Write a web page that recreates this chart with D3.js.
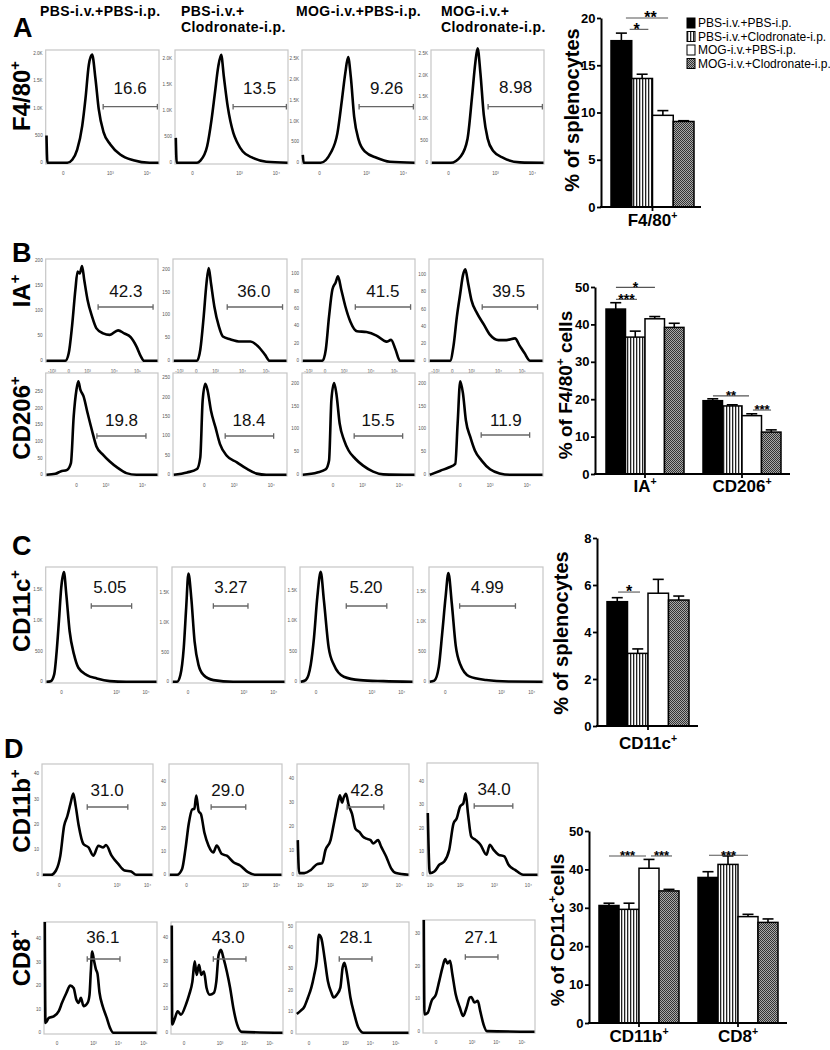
<!DOCTYPE html>
<html><head><meta charset="utf-8">
<script src="https://cdn.jsdelivr.net/npm/d3@7"></script>
<style>body{margin:0;background:#fff}svg{display:block}</style>
</head><body>
<svg id="fig" width="830" height="1050"></svg>
<script>
// ---------------- DATA ----------------
const groups = ["PBS-i.v.+PBS-i.p.","PBS-i.v.+Clodronate-i.p.","MOG-i.v.+PBS-i.p.","MOG-i.v.+Clodronate-i.p."];
const colHeaders = [["PBS-i.v.+PBS-i.p."],["PBS-i.v.+","Clodronate-i.p."],["MOG-i.v.+PBS-i.p."],["MOG-i.v.+","Clodronate-i.p."]];

const pctF480  = ["16.6","13.5","9.26","8.98"];
const pctIA    = ["42.3","36.0","41.5","39.5"];
const pctCD206 = ["19.8","18.4","15.5","11.9"];
const pctCD11c = ["5.05","3.27","5.20","4.99"];
const pctCD11b = ["31.0","29.0","42.8","34.0"];
const pctCD8   = ["36.1","43.0","28.1","27.1"];

// histogram curves: [channel position (% of axis), count]
const histF480 = [
 [[0,500],[0.8,0],[18.6,0],[23,56],[27.4,240],[31.9,675],[34.8,1170],[37.8,1790],[40.7,1975],[43.7,1540],[46.6,985],[51,555],[57,335],[65.8,150],[77.6,45],[92,0],[100,0]],
 [[0,480],[0.8,0],[19,0],[22,40],[28,313],[32,830],[35,1340],[38,1850],[40.6,2080],[43,1660],[46.5,1080],[51.5,575],[55,390],[60,217],[69,95],[81,20],[100,0]],
 [[0,190],[0.8,0],[16,0],[25,240],[31,710],[35,1500],[38,2140],[40.6,2530],[43,2050],[46,1100],[50,550],[56,260],[66,120],[78,25],[100,0]],
 [[0,0],[17,0],[26,150],[32,550],[36,1500],[39,2290],[41,2610],[43.5,2050],[46.5,1100],[50,550],[55,270],[64,110],[79,10],[100,0]]
];
const histIA = [
 [[0,0],[17,0],[20,15],[23,69],[26,142],[28,179],[30,175],[32,190],[34,162],[37,122],[41,89],[45,65],[51,55],[57,52],[64.5,61],[70,55],[76,47],[81,29],[85,9],[88,0],[100,0]],
 [[0,0],[20.6,0],[23.5,24],[26.5,96],[29,169],[31,202],[33,169],[36,118],[40,75],[43.5,53],[50,47],[59,42],[68,42],[75,31],[81,13],[85,0],[100,0]],
 [[0,0],[17.6,0],[20.6,13],[23.5,51],[26.5,82],[29.4,90],[31.5,97],[34.4,82],[38,63],[42.6,45],[48.5,34],[57,33],[66,29],[75,22],[79,24],[83,13],[87,0],[100,0]],
 [[0,0],[18,0],[21,17],[24,51],[27,78],[29.4,99],[31.5,106],[34,90],[37,70],[42,55],[48,42],[53.5,30],[61,24],[68,24],[75.6,26],[80,17],[84,9],[89,0],[100,0]]
];
const histCD206 = [
 [[0,0],[8,3],[12.7,10],[18.6,15],[22,35],[24.5,175],[27,255],[28.7,280],[30.5,255],[33.4,235],[37,185],[40.8,135],[45,85],[51,60],[57,40],[64.5,20],[72,5],[81,0],[100,0]],
 [[0,0],[11.8,6],[20.6,15],[23.5,45],[25.6,191],[28,234],[30,217],[33,165],[37,122],[41,79],[47,49],[56,32],[65,15],[73.5,3],[82,0],[100,0]],
 [[0,0],[13,5],[20.6,12],[23.5,31],[25.6,163],[28,200],[30,178],[33,112],[37,75],[41,53],[47,35],[54,20],[63,7],[72,1],[100,0]],
 [[0,0],[9.4,9],[16.8,16],[22.6,24],[24.7,112],[27,204],[29.4,178],[32,119],[36,82],[40,53],[46,31],[53.5,12],[62,3],[71,0],[100,0]]
];
const histCD11c = [
 [[0,0],[3.9,10],[7,120],[9,445],[11.3,990],[13.4,1530],[15.8,1780],[18,1420],[21,825],[25,445],[29,228],[36.7,109],[45.7,54],[57.6,11],[72.5,0],[100,0]],
 [[0,0],[3.8,0],[6.8,114],[9.8,570],[12,1250],[14,1820],[16.5,1420],[19.5,680],[23,285],[27.5,114],[36.4,28],[54,0],[100,0]],
 [[0,0],[4.4,28],[8.9,280],[11.8,720],[14.8,1390],[17.8,1800],[20.7,1330],[25,555],[29.6,278],[38.5,83],[53,28],[74,11],[100,0]],
 [[0,0],[4,20],[8,250],[11,800],[14,1400],[16.5,1800],[19.5,1300],[23,600],[27,290],[35,90],[50,30],[70,5],[100,0]]
];
const histCD11b = [
 [[0,0],[7.5,0],[12,1.7],[16,7.6],[19.4,19.3],[22.4,23.3],[25.4,28.5],[27.8,32.2],[30,27.2],[32.8,19.3],[37,12.2],[41.8,10.8],[46,7.6],[50.7,11.5],[55,10.8],[57.6,11.8],[62.7,7.6],[68.7,4.3],[74.6,1.7],[80.6,1.3],[85,0],[100,0]],
 [[0,0],[6.5,0],[11,2.5],[14,11],[17,22],[20,28],[22,28.3],[23.7,34],[25.8,27.3],[27.9,26],[31,18],[34.7,12.5],[39,9.6],[42,12.5],[46.6,8.9],[51,8.2],[57,5.4],[63,4],[70,1.1],[76,0],[100,0]],
 [[0,14.4],[1.2,0.7],[5.9,0.7],[11.8,2],[17.8,4.5],[22,4.8],[25,10.3],[29.6,14.4],[32.5,21],[35.5,28],[38,33],[40,30],[41.4,32],[43.5,33.6],[46,28.8],[49,25.3],[52,19.2],[55.6,17.8],[59,15.8],[62,15],[65.7,14.4],[68,13],[72.5,14.4],[75.4,11.6],[79.9,7.5],[84.3,2.7],[88.8,0.7],[100,0]],
 [[0,26.5],[1.8,0.7],[6,1.4],[10.5,4.3],[15,5.7],[19.5,10.7],[23.4,22],[26.4,24.3],[29.4,29.3],[32.4,30.7],[34.5,35],[36.6,26.5],[39.6,16.4],[43.5,15],[48,12.9],[53.5,8.6],[56.5,12.9],[60,10.7],[64.6,8.6],[69.7,7.9],[73.6,4.3],[79.6,2.1],[87,0],[100,0]]
];
const histCD8 = [
 [[0,47],[0.6,4.2],[3.6,6.3],[8,7],[12.5,9.2],[15.4,12.7],[19.3,16.9],[22.8,20],[25.8,19],[28.2,14.1],[30.3,12.7],[32.3,14.8],[34.7,11.3],[38.3,12.7],[40,16],[41.2,26],[42.4,34.5],[43.9,31],[45.7,27],[47.2,25],[49,17],[52,11],[55,7],[58.5,2],[61.4,0],[100,0]],
 [[0,45],[0.4,3.5],[2.4,5.6],[5.3,9],[8.3,7.6],[12.7,11.8],[15.7,16],[18.6,21.5],[20.7,30],[22.5,24.3],[24.6,28.5],[26.6,24.3],[29,25.7],[31.4,18.8],[34.3,16],[37.9,16.7],[40.2,21.5],[42.3,32.7],[44.4,34.8],[46.7,31.3],[49.7,25.7],[52.7,18.8],[55.6,10.4],[59,3.5],[63,0.4],[100,0]],
 [[0,8.8],[3.6,10.4],[6.5,12],[10,16.6],[13,21.2],[15.4,26.7],[17.8,33.6],[19.8,46],[21.9,44.5],[24.9,35],[27.8,24.3],[30.8,19],[33,16.6],[36,18],[39,21.2],[41,30.5],[42.6,32.9],[45,27.4],[48,16.6],[51.5,8.8],[55,2.6],[59.8,0],[100,0]],
 [[0,34],[0.6,5.3],[3.6,5.8],[7,9.4],[11,11.4],[14,15.5],[16.9,19.6],[19.3,22.1],[21.4,20.8],[23.7,21.6],[25.8,17.5],[28.8,11.4],[32.6,7.3],[35.6,4.8],[38.6,7.3],[41.5,10.4],[43,10.6],[45.7,8.9],[48.7,9.4],[51,6.3],[54,2.2],[57,0.2],[100,0]]
];

// histogram count-axis extents and tick values
const yMaxF480 = [2060,2170,2700,2570];
const yTicksF480 = [[0,500,1000,1500,2000],[0,500,1000,1500,2000],[0,500,1000,1500,2000,2500],[0,500,1000,1500,2000,2500]];
const yMaxIA = [204,222,117,118];
const yTicksIA = [[0,50,100,150,200],[0,50,100,150,200],[0,20,40,60,80,100],[0,20,40,60,80,100]];
const yMaxCD206 = [305,262,222,222];
const yTicksCD206 = [[0,50,100,150,200,250],[0,50,100,150,200,250],[0,50,100,150,200],[0,50,100,150,200]];
const yMaxCD11c = [1864,1928,1880,1900];
const yTicksCD11c = [[0,500,1000,1500],[0,500,1000,1500],[0,500,1000,1500],[0,500,1000,1500]];
const yMaxCD11b = [43.9,47.5,46,48];
const yTicksCD11b = [[0,10,20,30,40],[0,10,20,30,40],[0,10,20,30,40],[0,10,20,30,40]];
const yMaxCD8 = [47,46.5,52,34];
const yTicksCD8 = [[0,10,20,30,40],[0,10,20,30,40],[0,10,20,30,40,50],[0,10,20,30]];

// fluorescence-axis tick labels [label, position % of axis]
const xtF480 = [["0",15],["10³",57],["10⁴",90]];
const xtIA = [["-10³",5],["0",20],["10³",37],["10⁴",61],["10⁵",82]];
const xtCD206 = [["0",27],["10³",53.5],["10⁴",86.5]];
const xtCD11c = [["0",13.7],["10³",63.6],["10⁴",90.4]];
const xtCD11bLin = [["0",15],["10³",67.8],["10⁴",95.5]];
const xtCD11bLog = [["10¹",2.4],["10²",29.6],["10³",60.7],["10⁴",91.7]];
const xtCD8 = [["0",11],["10³",43.6],["10⁴",65.9],["10⁵",88.7]];

// bar charts (mean, SEM)
const meanF480 = [17.6,13.6,9.7,9.05],  semF480 = [0.8,0.45,0.5,0.08];
const meanIA = [44.1,36.6,41.5,39.2],    semIA = [1.7,1.6,0.6,1.1];
const meanCD206 = [19.6,18.2,15.6,11.2], semCD206 = [0.5,0.3,0.5,0.6];
const meanCD11c = [5.29,3.09,5.65,5.36], semCD11c = [0.17,0.19,0.59,0.17];
const meanCD11b = [30.6,29.6,40.3,34.4], semCD11b = [0.6,1.6,2.3,0.4];
const meanCD8 = [37.9,41.3,27.7,26.2],   semCD8 = [1.5,2.2,0.6,0.9];
const ticksSpleen = [0,5,10,15,20];
const ticksF480pct = [0,10,20,30,40,50];
const ticksCD11cSpleen = [0,2,4,6,8];
const ticksCD11cPct = [0,10,20,30,40,50];

// ---------------- DRAWING ----------------
const FONT = "'Liberation Sans', Arial, Helvetica, sans-serif";
const svg = d3.select("#fig").attr("font-family", FONT);
const defs = svg.append("defs");
const pv = defs.append("pattern").attr("id","vstripe").attr("patternUnits","userSpaceOnUse").attr("width",3).attr("height",4);
pv.append("rect").attr("width",3).attr("height",4).attr("fill","#fff");
pv.append("rect").attr("width",1.3).attr("height",4).attr("fill","#222");
const pc = defs.append("pattern").attr("id","checker").attr("patternUnits","userSpaceOnUse").attr("width",2).attr("height",2);
pc.append("rect").attr("width",2).attr("height",2).attr("fill","#a8a8a8");
pc.append("rect").attr("width",1).attr("height",1).attr("fill","#333");
pc.append("rect").attr("x",1).attr("y",1).attr("width",1).attr("height",1).attr("fill","#333");
const fills = ["#000","url(#vstripe)","#fff","url(#checker)"];

function rich(parent, x, y, parts, size, weight){
  const t = parent.append("text").attr("x",x).attr("y",y).attr("font-size",size).attr("font-weight",weight||"bold");
  let up = false;
  parts.forEach(([s,sup])=>{
    const ts = t.append("tspan").text(s);
    if (sup && !up){ ts.attr("dy",-0.42*size).attr("font-size",size*0.62); up=true; }
    else if (!sup && up){ ts.attr("dy",0.42*size); up=false; }
  });
  return t;
}

// column headers
const headerX = [40,181,296,441];
colHeaders.forEach((lines,i)=>{
  lines.forEach((s,j)=>{
    svg.append("text").attr("x",headerX[i]).attr("y",16+j*15.5).attr("font-size",14)
      .attr("letter-spacing",0.4).attr("font-weight","bold").text(s);
  });
});

// panel letters
[["A",13,37],["B",12,262],["C",12,555],["D",4,758]].forEach(([s,x,y])=>{
  svg.append("text").attr("x",x).attr("y",y).attr("font-size",27).attr("font-weight","bold").text(s);
});

// row labels (rotated)
[["F4/80",96],["IA",291],["CD206",418],["CD11c",611],["CD11b",811],["CD8",958]].forEach(([s,cy])=>{
  const g = svg.append("g").attr("transform",`translate(30,${cy}) rotate(-90)`);
  rich(g,0,0,[[s,false],["+",true]],24).attr("text-anchor","middle");
});

const fmtK = v => v>=1000 ? (v/1000).toFixed(1)+"K" : String(v);

function drawRow(cfg){
  cfg.hist.forEach((data,i)=>{
    const [bx,by,bw,bh] = cfg.boxes[i];
    const g = svg.append("g");
    g.append("rect").attr("x",bx).attr("y",by).attr("width",bw).attr("height",bh)
      .attr("fill","none").attr("stroke","#c6c6c6").attr("stroke-width",1.2);
    const x = d3.scaleLinear().domain([0,100]).range([bx+0.8,bx+bw-0.5]);
    const y = d3.scaleLinear().domain([0,cfg.ymax[i]]).range([by+bh-1.2,by]);
    cfg.yt[i].forEach(v=>{
      g.append("text").attr("x",bx-3).attr("y",y(v)+1.5).attr("text-anchor","end")
        .attr("font-size",4.6).attr("fill","#555").text(fmtK(v));
    });
    cfg.xt[i].forEach(([lab,p])=>{
      g.append("text").attr("x",x(p)).attr("y",by+bh+11).attr("text-anchor","middle")
        .attr("font-size",4.6).attr("fill","#555").text(lab);
    });
    const line = d3.line().x(d=>x(d[0])).y(d=>y(d[1])).curve(d3.curveMonotoneX);
    g.append("path").attr("d",line(data)).attr("fill","none").attr("stroke","#000")
      .attr("stroke-width",2.6).attr("stroke-linejoin","round");
    const gy = by+cfg.gateDy[i], g1 = x(cfg.gates[i][0]), g2 = x(cfg.gates[i][1]);
    g.append("line").attr("x1",g1).attr("x2",g2).attr("y1",gy).attr("y2",gy).attr("stroke","#666").attr("stroke-width",1.3);
    [g1,g2].forEach(gx=>g.append("line").attr("x1",gx).attr("x2",gx).attr("y1",gy-2.8).attr("y2",gy+2.8).attr("stroke","#666").attr("stroke-width",1.3));
    g.append("text").attr("x",x(cfg.labelX[i])).attr("y",by+cfg.labelDy[i]).attr("text-anchor","middle")
      .attr("font-size",17).attr("fill","#111").text(cfg.pct[i]);
  });
}

drawRow({hist:histF480, ymax:yMaxF480, yt:yTicksF480, xt:[xtF480,xtF480,xtF480,xtF480], pct:pctF480,
  boxes:[[45.7,50,113.3,114],[175,50,113,114],[302,50,113,114],[431,50,113,114]],
  gates:[[50.6,99],[51.3,99],[50.4,99],[50.4,99]], labelX:[74.6,75,75,75],
  gateDy:[56.7,56.7,56.7,56.7], labelDy:[44,44,44,43]});
drawRow({hist:histIA, ymax:yMaxIA, yt:yTicksIA, xt:[xtIA,xtIA,xtIA,xtIA], pct:pctIA,
  boxes:[[45.7,259,112.3,103],[173,259,114,103],[302,259,113,103],[429,259,114,103]],
  gates:[[46.5,96],[47.4,96.5],[47,96.5],[46.5,95.6]], labelX:[71.5,71,71.7,70],
  gateDy:[48,48,48,48], labelDy:[38,38,38,38]});
drawRow({hist:histCD206, ymax:yMaxCD206, yt:yTicksCD206, xt:[xtCD206,xtCD206,xtCD206,xtCD206], pct:pctCD206,
  boxes:[[45.7,373,112.3,103],[173,373,114,103],[302,373,113,103],[429,373,114,103]],
  gates:[[45.4,89.6],[45.6,88.6],[46,89.4],[45.6,88.6]], labelX:[67.6,66.7,67.4,67.5],
  gateDy:[63,63,63,62], labelDy:[53,53,53,53]});
drawRow({hist:histCD11c, ymax:yMaxCD11c, yt:yTicksCD11c, xt:[xtCD11c,xtCD11c,xtCD11c,xtCD11c], pct:pctCD11c,
  boxes:[[45.7,567,111.3,116],[172,567,113,116],[300,567,113,116],[429,567,114,116]],
  gates:[[40.7,77.4],[36.3,67.3],[40.7,77],[26.5,76]], labelX:[57.6,52,58.4,51],
  gateDy:[39,39,39,39], labelDy:[26,26,26,26]});
drawRow({hist:histCD11b, ymax:yMaxCD11b, yt:yTicksCD11b, xt:[xtCD11bLin,xtCD11bLin,xtCD11bLog,xtCD11bLog], pct:pctCD11b,
  boxes:[[42,764,111,112],[169,764,113,112],[297,764,112,112],[427,763,111,113]],
  gates:[[40.5,77.5],[37,68],[44.6,77.7],[42.3,77.5]], labelX:[58.6,52,62.5,60.4],
  gateDy:[43,43,43,43], labelDy:[32,32,32,32]});
drawRow({hist:histCD8, ymax:yMaxCD8, yt:yTicksCD8, xt:[xtCD8,xtCD8,xtCD8,xtCD8], pct:pctCD8,
  boxes:[[44,922,113,112],[171,922,112,112],[296,922,113,112],[423,920,112,113]],
  gates:[[38,67.3],[37.5,67],[38,67.3],[37.5,67]], labelX:[52,51,53,51.8],
  gateDy:[37,37,37,37], labelDy:[21,21,21,23]});

// ---------------- BAR CHARTS ----------------
function barChart(o){
  const g = svg.append("g");
  const y = d3.scaleLinear().domain([0,o.ymax]).range([o.y0,o.y1]);
  const xo = d3.scaleBand().domain(o.cats.map(c=>c[0])).range([o.gx0,o.gx1]).paddingInner(o.pad).paddingOuter(0);
  const xi = d3.scaleBand().domain(d3.range(groups.length)).range([0,xo.bandwidth()]);
  const bw = xi.bandwidth();
  o.cats.forEach((c,ci)=>{
    o.means[ci].forEach((m,i)=>{
      const bx = xo(c[0])+xi(i), cx = bx+bw/2;
      g.append("rect").attr("x",bx).attr("y",y(m)).attr("width",bw).attr("height",y(0)-y(m))
        .attr("fill",fills[i]).attr("stroke","#000").attr("stroke-width",1.5);
      const top = y(m+o.sems[ci][i]);
      g.append("line").attr("x1",cx).attr("x2",cx).attr("y1",y(m)).attr("y2",top).attr("stroke","#000").attr("stroke-width",1.6);
      g.append("line").attr("x1",cx-5.5).attr("x2",cx+5.5).attr("y1",top).attr("y2",top).attr("stroke","#000").attr("stroke-width",1.6);
    });
    const mid = xo(c[0])+xo.bandwidth()/2;
    g.append("line").attr("x1",mid).attr("x2",mid).attr("y1",o.y0).attr("y2",o.y0+4).attr("stroke","#000").attr("stroke-width",1.8);
    rich(g, mid, o.y0+o.labDy, [[c[1],false],["+",true]], 17).attr("text-anchor","middle");
  });
  // significance
  o.sig.forEach(([ci,a,b,lev,s,fs,sc])=>{
    const x0 = xo(o.cats[ci][0]);
    const x1 = x0+a*bw, x2 = x0+b*bw, yy = y(lev);
    const tx = sc!==undefined ? x0+sc*bw : (x1+x2)/2;
    g.append("line").attr("x1",x1).attr("x2",x2).attr("y1",yy).attr("y2",yy).attr("stroke","#555").attr("stroke-width",1.1);
    g.append("text").attr("x",tx).attr("y",yy+0.34*fs).attr("text-anchor","middle").attr("font-size",fs)
      .attr("font-weight","bold").text(s);
  });
  const ax = g.append("g").attr("transform",`translate(${o.ax},0)`)
    .call(d3.axisLeft(y).tickValues(o.ticks).tickSize(4).tickSizeOuter(0).tickPadding(1.5));
  ax.select(".domain").attr("stroke","#000").attr("stroke-width",2);
  ax.selectAll(".tick line").attr("stroke","#000").attr("stroke-width",1.8);
  ax.selectAll(".tick text").attr("font-size",13).attr("font-weight","bold").attr("font-family",FONT).attr("fill","#000");
  g.append("line").attr("x1",o.ax-1).attr("x2",o.axEnd).attr("y1",o.y0).attr("y2",o.y0).attr("stroke","#000").attr("stroke-width",2);
  const yl = g.append("g").attr("transform",`translate(${o.ylx},${o.yly}) rotate(-90)`);
  rich(yl,0,0,o.ylab,o.ylfs).attr("text-anchor","middle");
}

barChart({cats:[["F4/80","F4/80"]], means:[meanF480], sems:[semF480], ymax:20, y0:207, y1:18, ticks:ticksSpleen,
  ax:601, axEnd:701, gx0:611, gx1:694, pad:0, labDy:19,
  ylab:[["% of splenocytes",false]], ylx:579, yly:110, ylfs:20,
  sig:[[0,0.9,1.8,18.8,"*",16,1.23],[0,0.72,2.75,20,"**",16,1.9]]});
barChart({cats:[["IA","IA"],["CD206","CD206"]], means:[meanIA,meanCD206], sems:[semIA,semCD206], ymax:50, y0:474, y1:287, ticks:ticksF480pct,
  ax:595, axEnd:790, gx0:606, gx1:781, pad:0.196, labDy:18,
  ylab:[["% of F4/80",false],["+",true],[" cells",false]], ylx:572, yly:385, ylfs:19,
  sig:[[0,0.51,2.51,49.9,"*",14],[0,0.51,1.59,46.7,"***",14],[1,0.51,2.36,20.9,"**",13],[1,2.56,3.49,17.1,"***",13]]});
barChart({cats:[["CD11c","CD11c"]], means:[meanCD11c], sems:[semCD11c], ymax:8, y0:726, y1:538, ticks:ticksCD11cSpleen,
  ax:597, axEnd:698, gx0:607, gx1:689, pad:0, labDy:23,
  ylab:[["% of splenocytes",false]], ylx:568, yly:633, ylfs:20,
  sig:[[0,0.54,1.61,5.7,"*",16]]});
barChart({cats:[["CD11b","CD11b"],["CD8","CD8"]], means:[meanCD11b,meanCD8], sems:[semCD11b,semCD8], ymax:50, y0:1023, y1:831, ticks:ticksCD11cPct,
  ax:589, axEnd:787, gx0:599, gx1:778, pad:0.192, labDy:19,
  ylab:[["% of CD11c",false],["+",true],["cells",false]], ylx:564, yly:930, ylfs:19,
  sig:[[0,0.5,2.35,43.5,"***",13],[0,2.6,3.65,43.5,"***",13],[1,0.55,2.5,43.7,"***",13]]});

// legend
groups.forEach((s,i)=>{
  const yb = 27 + i*13.5;
  svg.append("rect").attr("x",687).attr("y",yb-9).attr("width",8).attr("height",10)
    .attr("fill",fills[i]).attr("stroke","#000").attr("stroke-width",1);
  svg.append("text").attr("x",698).attr("y",yb).attr("font-size",12).text(s);
});
</script>
</body></html>
